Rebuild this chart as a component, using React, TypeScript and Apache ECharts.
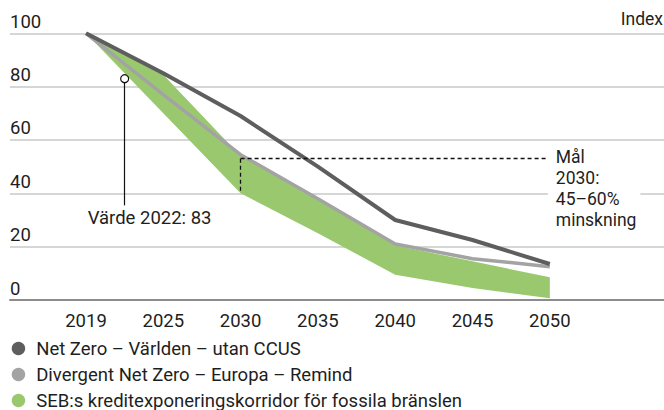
import React, { useEffect, useRef } from "react";
import * as echarts from "echarts";

const years = ["2019", "2025", "2030", "2035", "2040", "2045", "2050"];
const netZeroWorld = [100, 85, 69, 50, 30, 22.5, 13.5];
const divergentEurope = [100, 77, 54.5, 38, 21, 15.5, 12.5];
const corridorUpper = [100, 84.5, 54, 37.5, 20.5, 14.5, 8.5];
const corridorLower = [100, 70, 40, 25, 9.5, 4.5, 0.7];
const seriesNames = [
  "Net Zero – Världen – utan CCUS",
  "Divergent Net Zero – Europa – Remind",
  "SEB:s kreditexponeringskorridor för fossila bränslen",
];
const value2022 = 83;
const value2022Pos = 0.5; // 2022 lies halfway between 2019 and 2025
const value2022LineEnd = 35.5;
const targetHigh = 53;
const targetLow = 40;
const targetIndex = 2; // 2030
const targetEndIndex = 6;

const FONT = "Roboto, 'Noto Sans', sans-serif";
const TXT = "#1e1e1e";
const DARK = "#5e5e5e";
const GRAY = "#a3a3a3";
const GREEN = "#9ac86f";
const FS = 18.5;

export default function App() {
  const ref = useRef<HTMLDivElement>(null);
  useEffect(() => {
    const el = ref.current!;
    const chart = echarts.init(el, null, { renderer: "svg" });
    const pairs = (arr: number[]) => arr.map((v, i) => [i, v]);
    const legendRowCenters = [348, 374, 400];
    chart.setOption({
      animation: false,
      backgroundColor: "#fff",
      textStyle: { fontFamily: FONT },
      grid: { left: 10, right: 0, top: 33.33, bottom: 110, containLabel: false },
      xAxis: {
        type: "value",
        min: -0.983,
        max: 7.477,
        axisLine: { show: true, onZero: true, lineStyle: { color: "#8c8c8c", width: 2 } },
        axisTick: { show: false },
        splitLine: { show: false },
        axisLabel: {
          customValues: years.map((_, i) => i),
          formatter: (v: number) => years[Math.round(v)] ?? "",
          fontSize: FS,
          color: TXT,
          fontFamily: FONT,
          margin: 11,
        },
      },
      yAxis: {
        type: "value",
        min: 0,
        max: 100,
        interval: 20,
        axisLine: { show: false },
        axisTick: { show: false },
        splitLine: { lineStyle: { color: "#c9c9c9", width: 1.5 } },
        axisLabel: {
          inside: true,
          margin: 0,
          align: "left",
          verticalAlign: "bottom",
          padding: [0, 0, 2, 0],
          fontSize: FS,
          color: TXT,
          fontFamily: FONT,
        },
      },
      legend: seriesNames.map((name, i) => ({
        orient: "vertical",
        left: 11.7,
        top: legendRowCenters[i] - 9,
        padding: 0,
        itemWidth: 13.5,
        itemHeight: 13.5,
        icon: "circle",
        data: [name],
        textStyle: {
          fontSize: FS,
          color: TXT,
          fontFamily: FONT,
          lineHeight: 18,
          padding: [0, 0, 0, 6],
        },
      })),
      series: [
        {
          name: seriesNames[2],
          type: "custom",
          data: corridorUpper.map((u, i) => [i, u, corridorLower[i]]),
          encode: { x: 0, y: [1, 2] },
          itemStyle: { color: GREEN },
          renderItem: (params: any, api: any) => {
            if (params.dataIndex !== 0) return null;
            const pts: number[][] = [];
            corridorUpper.forEach((u, i) => pts.push(api.coord([i, u])));
            for (let i = corridorLower.length - 1; i >= 0; i--) {
              pts.push(api.coord([i, corridorLower[i]]));
            }
            return { type: "polygon", shape: { points: pts }, style: { fill: GREEN } };
          },
        },
        {
          name: seriesNames[1],
          type: "line",
          data: pairs(divergentEurope),
          symbol: "none",
          itemStyle: { color: GRAY },
          lineStyle: { color: GRAY, width: 3.5 },
          markLine: {
            silent: true,
            symbol: "none",
            z: 10,
            label: { show: false },
            lineStyle: { color: "#111", type: [4, 3], width: 1.3 },
            data: [
              [{ coord: [targetIndex, targetHigh] }, { coord: [targetEndIndex, targetHigh] }],
              [{ coord: [targetIndex, targetHigh] }, { coord: [targetIndex, targetLow] }],
            ],
          },
        },
        {
          name: seriesNames[0],
          type: "line",
          data: pairs(netZeroWorld),
          symbol: "none",
          itemStyle: { color: DARK },
          lineStyle: { color: DARK, width: 4 },
          markLine: {
            silent: true,
            symbol: "none",
            z: 10,
            label: { show: false },
            lineStyle: { color: "#111", type: "solid", width: 1.2 },
            data: [
              [{ coord: [value2022Pos, value2022] }, { coord: [value2022Pos, value2022LineEnd] }],
            ],
          },
          markPoint: {
            silent: true,
            symbol: "circle",
            symbolSize: 8,
            z: 11,
            label: { show: false },
            itemStyle: { color: "#fff", borderColor: "#111", borderWidth: 1.2 },
            data: [{ coord: [value2022Pos, value2022] }],
          },
        },
      ],
    });
    const p = (x: number, y: number) => chart.convertToPixel({ gridIndex: 0 }, [x, y]) as number[];
    const [ax, ay] = p(value2022Pos, value2022LineEnd);
    const [tx, ty] = p(targetEndIndex, targetHigh);
    const [, topY] = p(0, 100);
    chart.setOption({
      graphic: [
        {
          type: "text",
          right: 1,
          top: topY - 23,
          style: { text: "Index", fontSize: 17.5, fill: TXT, fontFamily: FONT },
        },
        {
          type: "text",
          x: ax - 37,
          y: ay + 13,
          style: {
            text: "Värde 2022: 83",
            fontSize: FS,
            fill: TXT,
            fontFamily: FONT,
            verticalAlign: "middle",
            align: "left",
          },
        },
        {
          type: "text",
          x: tx - 2,
          y: ty - 11.8,
          z: 20,
          style: {
            text: "Mål\n2030:\n45–60%\nminskning",
            fontSize: 17.5,
            lineHeight: 21,
            fill: TXT,
            fontFamily: FONT,
            verticalAlign: "top",
            align: "left",
            backgroundColor: "#fff",
            padding: [0, 4, 0, 8],
          },
        },
      ],
    });
    return () => chart.dispose();
  }, []);
  return (
    <div
      ref={ref}
      style={{ position: "fixed", left: 0, top: 0, width: 664, height: 410 }}
    />
  );
}
